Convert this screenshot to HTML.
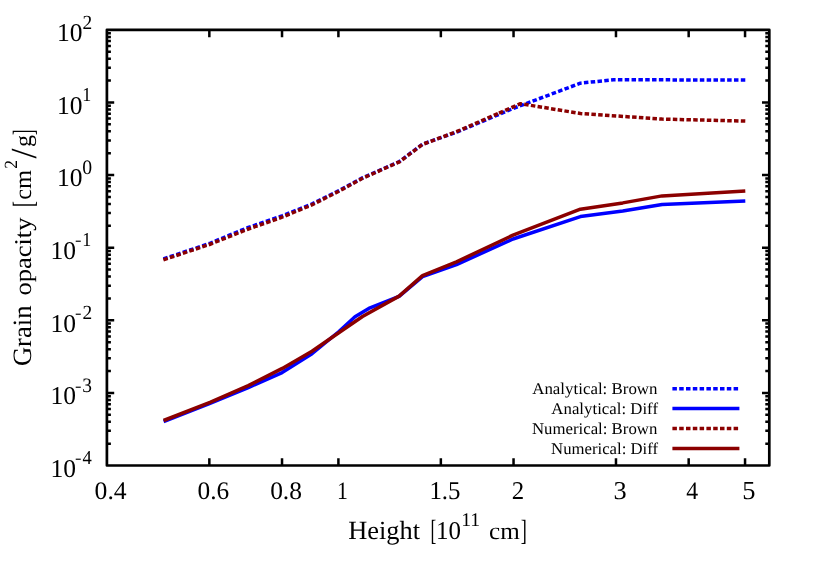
<!DOCTYPE html>
<html><head><meta charset="utf-8"><title>Grain opacity</title>
<style>
html,body{margin:0;padding:0;background:#fff;}
body{width:814px;height:570px;overflow:hidden;font-family:"Liberation Serif",serif;}
svg{display:block;will-change:transform}
svg text{font-family:"Liberation Serif",serif;fill:#000;text-rendering:geometricPrecision;}
</style></head>
<body>
<svg width="814" height="570" viewBox="0 0 814 570">
<rect width="814" height="570" fill="#fff"/>
<g fill="none" stroke-width="3.5" stroke-linejoin="round" stroke-linecap="butt">
<path d="M163.4,258.9L209.4,243.5L248.3,227.4L282.1,215.9L311.8,204.0L338.4,190.9L362.5,177.9L399.5,161.5L422.5,144.2L456.5,132.2L513.5,108.3L580.4,83.2L613.5,79.7L745.3,80.1" stroke="#0000ff" stroke-dasharray="4.5,2.3277"/>
<path d="M163.6,421.5L209.4,403.5L248.3,387.6L282.1,372.6L312.0,353.7L338.4,332.0L355.0,316.8L368.8,308.4L399.1,296.4L422.5,276.6L456.5,264.6L513.0,239.0L580.4,216.6L622.8,211.0L662.1,204.5L745.3,201.1" stroke="#0000ff"/>
<path d="M163.4,259.8L209.4,244.5L248.3,229.0L282.1,217.2L311.8,204.9L338.4,191.5L362.5,178.3L399.5,161.8L422.5,144.4L456.5,131.7L499.0,113.1" stroke="#8b0000" stroke-dasharray="4.5,2.3277"/><path d="M499.0,113.1L520.5,103.7L580.4,113.5L662.1,119.1L745.3,121.1" stroke="#8b0000" stroke-dasharray="4.5,2.3" stroke-dashoffset="0.02"/>
<path d="M163.6,420.5L210.0,402.4L248.3,385.6L282.3,368.4L312.0,351.2L338.4,333.0L362.5,316.5L399.1,296.1L422.5,275.6L456.5,261.8L513.0,235.2L580.4,209.2L622.8,202.9L662.1,195.9L745.3,191.0" stroke="#8b0000"/>
<path d="M672.4,388.8H739.4" stroke="#0000ff" stroke-dasharray="4.5,2.3"/>
<path d="M672.4,408.6H739.4" stroke="#0000ff"/>
<path d="M672.4,428.6H739.4" stroke="#8b0000" stroke-dasharray="4.5,2.3"/>
<path d="M672.4,448.4H739.4" stroke="#8b0000"/>
</g>
<g fill="none" stroke="#000" stroke-width="2.5" stroke-linecap="butt">
<path d="M106.90,80.60h4.0M769.30,80.60h-4.0M106.90,67.82h4.0M769.30,67.82h-4.0M106.90,58.74h4.0M769.30,58.74h-4.0M106.90,51.71h4.0M769.30,51.71h-4.0M106.90,45.96h4.0M769.30,45.96h-4.0M106.90,41.10h4.0M769.30,41.10h-4.0M106.90,36.89h4.0M769.30,36.89h-4.0M106.90,33.17h4.0M769.30,33.17h-4.0M106.90,102.46h7.3M769.30,102.46h-7.3M106.90,153.21h4.0M769.30,153.21h-4.0M106.90,140.42h4.0M769.30,140.42h-4.0M106.90,131.35h4.0M769.30,131.35h-4.0M106.90,124.32h4.0M769.30,124.32h-4.0M106.90,118.57h4.0M769.30,118.57h-4.0M106.90,113.71h4.0M769.30,113.71h-4.0M106.90,109.49h4.0M769.30,109.49h-4.0M106.90,105.78h4.0M769.30,105.78h-4.0M106.90,175.07h7.3M769.30,175.07h-7.3M106.90,225.82h4.0M769.30,225.82h-4.0M106.90,213.03h4.0M769.30,213.03h-4.0M106.90,203.96h4.0M769.30,203.96h-4.0M106.90,196.92h4.0M769.30,196.92h-4.0M106.90,191.17h4.0M769.30,191.17h-4.0M106.90,186.31h4.0M769.30,186.31h-4.0M106.90,182.10h4.0M769.30,182.10h-4.0M106.90,178.39h4.0M769.30,178.39h-4.0M106.90,247.67h7.3M769.30,247.67h-7.3M106.90,298.43h4.0M769.30,298.43h-4.0M106.90,285.64h4.0M769.30,285.64h-4.0M106.90,276.57h4.0M769.30,276.57h-4.0M106.90,269.53h4.0M769.30,269.53h-4.0M106.90,263.78h4.0M769.30,263.78h-4.0M106.90,258.92h4.0M769.30,258.92h-4.0M106.90,254.71h4.0M769.30,254.71h-4.0M106.90,251.00h4.0M769.30,251.00h-4.0M106.90,320.28h7.3M769.30,320.28h-7.3M106.90,371.03h4.0M769.30,371.03h-4.0M106.90,358.25h4.0M769.30,358.25h-4.0M106.90,349.18h4.0M769.30,349.18h-4.0M106.90,342.14h4.0M769.30,342.14h-4.0M106.90,336.39h4.0M769.30,336.39h-4.0M106.90,331.53h4.0M769.30,331.53h-4.0M106.90,327.32h4.0M769.30,327.32h-4.0M106.90,323.61h4.0M769.30,323.61h-4.0M106.90,392.89h7.3M769.30,392.89h-7.3M106.90,443.64h4.0M769.30,443.64h-4.0M106.90,430.86h4.0M769.30,430.86h-4.0M106.90,421.79h4.0M769.30,421.79h-4.0M106.90,414.75h4.0M769.30,414.75h-4.0M106.90,409.00h4.0M769.30,409.00h-4.0M106.90,404.14h4.0M769.30,404.14h-4.0M106.90,399.93h4.0M769.30,399.93h-4.0M106.90,396.21h4.0M769.30,396.21h-4.0M209.34,465.50v-7.3M209.34,29.85v7.3M282.03,465.50v-7.3M282.03,29.85v7.3M338.41,465.50v-7.3M338.41,29.85v7.3M440.85,465.50v-7.3M440.85,29.85v7.3M513.54,465.50v-7.3M513.54,29.85v7.3M615.98,465.50v-7.3M615.98,29.85v7.3M688.67,465.50v-7.3M688.67,29.85v7.3M745.05,465.50v-7.3M745.05,29.85v7.3"/>
</g>
<rect x="106.9" y="29.85" width="662.4" height="435.65" fill="none" stroke="#000" stroke-width="2.7" stroke-linejoin="round"/>
<g>
<text transform="matrix(1.0207,0,0,1.0294,56.953,41.143)" font-size="25">10</text>
<text transform="matrix(0.9697,0,0,1.0038,82.523,28.700)" font-size="20">2</text>
<text transform="matrix(1.0207,0,0,1.0294,56.953,113.751)" font-size="25">10</text>
<text transform="matrix(0.9000,0,0,0.9887,82.275,100.908)" font-size="20">1</text>
<text transform="matrix(1.0207,0,0,1.0294,56.953,186.359)" font-size="25">10</text>
<text transform="matrix(0.9882,0,0,1.0296,82.309,174.059)" font-size="20">0</text>
<text transform="matrix(1.0207,0,0,1.0294,50.553,258.968)" font-size="25">10</text>
<text transform="matrix(0.9000,0,0,0.9887,82.275,246.125)" font-size="20">1</text>
<text transform="matrix(0.9714,0,0,0.8000,74.971,245.375)" font-size="20">-</text>
<text transform="matrix(1.0207,0,0,1.0294,50.553,331.576)" font-size="25">10</text>
<text transform="matrix(0.9697,0,0,1.0038,82.523,319.133)" font-size="20">2</text>
<text transform="matrix(0.9714,0,0,0.8000,74.971,317.983)" font-size="20">-</text>
<text transform="matrix(1.0207,0,0,1.0294,50.553,404.184)" font-size="25">10</text>
<text transform="matrix(0.9697,0,0,1.0296,82.280,391.884)" font-size="20">3</text>
<text transform="matrix(0.9714,0,0,0.8000,74.971,390.592)" font-size="20">-</text>
<text transform="matrix(1.0207,0,0,1.0294,50.553,476.793)" font-size="25">10</text>
<text transform="matrix(0.9263,0,0,0.9962,82.618,464.350)" font-size="20">4</text>
<text transform="matrix(0.9714,0,0,0.8000,74.971,463.200)" font-size="20">-</text>
<text transform="matrix(1.0267,0,0,1.0145,94.623,498.543)" font-size="25">0.4</text>
<text transform="matrix(1.0136,0,0,1.0145,197.536,498.543)" font-size="25">0.6</text>
<text transform="matrix(1.0188,0,0,1.0145,270.131,498.543)" font-size="25">0.8</text>
<text transform="matrix(0.8686,0,0,1.0061,336.896,498.650)" font-size="25">1</text>
<text transform="matrix(0.9964,0,0,1.0294,429.408,498.535)" font-size="25">1.5</text>
<text transform="matrix(0.9951,0,0,1.0209,511.655,498.650)" font-size="25">2</text>
<text transform="matrix(1.0537,0,0,1.0294,613.433,498.793)" font-size="25">3</text>
<text transform="matrix(0.9532,0,0,1.0061,686.373,498.650)" font-size="25">4</text>
<text transform="matrix(1.0600,0,0,1.0448,742.260,498.789)" font-size="25">5</text>
<text transform="matrix(1.0558,0,0,1.0485,348.158,538.950)" font-size="25">Height</text>
<text transform="matrix(0.6957,0,0,1.1714,430.433,540.250)" font-size="25">[</text>
<text transform="matrix(0.9977,0,0,1.0235,436.005,538.794)" font-size="25">10</text>
<text transform="matrix(0.9846,0,0,0.9660,461.227,526.050)" font-size="20">11</text>
<text transform="matrix(1.0051,0,0,0.9667,489.045,538.808)" font-size="25">cm</text>
<text transform="matrix(0.7304,0,0,1.1714,520.802,540.250)" font-size="25">]</text>
<text transform="rotate(-90) matrix(1.0637,0,0,1.0588,-366.114,30.785)" font-size="25">Grain</text>
<text transform="rotate(-90) matrix(1.0607,0,0,0.9667,-295.611,30.808)" font-size="25">opacity</text>
<text transform="rotate(-90) matrix(0.7130,0,0,1.1714,-207.098,32.550)" font-size="25">[</text>
<text transform="rotate(-90) matrix(0.9778,0,0,0.9667,-199.728,30.808)" font-size="25">cm</text>
<text transform="rotate(-90) matrix(0.8727,0,0,0.9283,-168.705,17.350)" font-size="20">2</text>
<text transform="rotate(-90) matrix(1.4571,0,0,1.4687,-158.450,36.283)" font-size="25">/</text>
<text transform="rotate(-90) matrix(0.9636,0,0,0.9479,-147.114,31.136)" font-size="25">g</text>
<text transform="rotate(-90) matrix(0.7130,0,0,1.1714,-135.285,32.550)" font-size="25">]</text>
<text transform="matrix(1.1266,0,0,1.0950,532.200,393.850)" font-size="15">Analytical: Brown</text>
<text transform="matrix(1.1213,0,0,1.0950,551.350,413.850)" font-size="15">Analytical: Diff</text>
<text transform="matrix(1.1190,0,0,1.0950,531.920,433.850)" font-size="15">Numerical: Brown</text>
<text transform="matrix(1.1154,0,0,1.0950,551.071,453.850)" font-size="15">Numerical: Diff</text>

</g>
</svg>
</body></html>
